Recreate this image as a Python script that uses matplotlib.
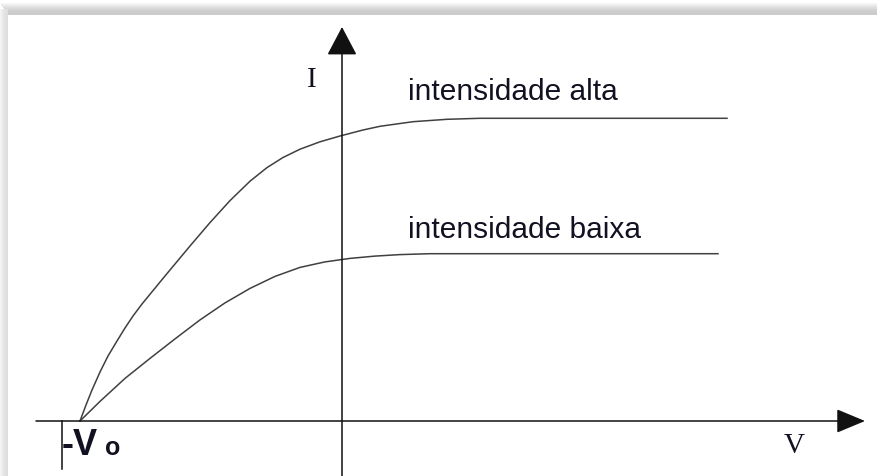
import numpy as np
import matplotlib.pyplot as plt
from matplotlib.patches import Rectangle

# curve points (V on the x axis, I on the y axis)
v_high = [-2.62, -2.56, -2.50, -2.42, -2.34, -2.25, -2.17, -2.09, -2.00, -1.89,
          -1.77, -1.65, -1.52, -1.32, -1.12, -0.92, -0.75, -0.59, -0.42, -0.22,
          -0.02, 0.21, 0.38, 0.71, 1.05, 1.38, 3.85]
i_high = [0.00, 0.16, 0.31, 0.49, 0.65, 0.80, 0.93, 1.05, 1.17, 1.304,
          1.45, 1.594, 1.75, 1.984, 2.204, 2.398, 2.534, 2.635, 2.718, 2.792,
          2.85, 2.91, 2.947, 2.993, 3.017, 3.027, 3.027]

v_low = [-2.62, -2.42, -2.17, -1.92, -1.67, -1.42, -1.17, -0.92, -0.67, -0.42,
         -0.17, 0.08, 0.33, 0.58, 0.88, 3.76]
i_low = [0.00, 0.196, 0.426, 0.626, 0.821, 1.011, 1.181, 1.326, 1.446, 1.536,
         1.591, 1.626, 1.649, 1.664, 1.673, 1.673]

label_high = "intensidade alta"
label_low = "intensidade baixa"
v0 = -2.80

fig = plt.figure(figsize=(8.77, 4.77), dpi=100)
fig.patch.set_facecolor('white')

# background shadow frame, drawn in pixel coordinates
bg = fig.add_axes([0, 0, 1, 1])
bg.set_xlim(0, 877)
bg.set_ylim(477, 0)
bg.axis('off')
top_grays = ['#f6f6f6', '#f0f0f0', '#eaeaea', '#e4e4e4', '#dedede', '#d9d9d9',
             '#d4d4d4', '#d0d0d0', '#cdcdcd', '#cbcbcb', '#cacaca', '#cccccc']
for k, g in enumerate(top_grays):
    bg.add_patch(Rectangle((k * 0.7, 4 + k), 877, 1, color=g, lw=0))
left_grays = ['#f4f4f4', '#efefef', '#eaeaea', '#e6e6e6', '#e3e3e3', '#e1e1e1',
              '#dfdfdf', '#dddddd']
for k, g in enumerate(left_grays):
    bg.add_patch(Rectangle((k, 10), 1, 477, color=g, lw=0))

# main drawing area: origin at the axes crossing
ax = fig.add_axes([0, 0, 1, 1])
ax.set_xlim(-3.42, 5.35)
ax.set_ylim(-0.55, 4.22)
ax.axis('off')
ax.patch.set_alpha(0)

arrow = dict(arrowstyle='-|>,head_length=1.8,head_width=0.75', color='#111111',
             lw=1.1, shrinkA=0, shrinkB=0, mutation_scale=10)
ax.annotate('', xy=(5.23, 0), xytext=(-3.06, 0), arrowprops=arrow)
ax.annotate('', xy=(0, 3.94), xytext=(0, -0.55),
            arrowprops=dict(arrow, arrowstyle='-|>,head_length=1.8,head_width=0.95'))
ax.plot([v0, v0], [0, -0.48], color='#111111', lw=1.1)

ax.plot(v_high, i_high, color='#404040', lw=1.1)
ax.plot(v_low, i_low, color='#404040', lw=1.1)

ax.text(0.66, 3.22, label_high, fontsize=21.5, family='Liberation Sans',
        color='#111122', va='baseline')
ax.text(0.66, 1.84, label_low, fontsize=21.5, family='Liberation Sans',
        color='#111122', va='baseline')

ax.text(-0.30, 3.35, 'I', fontsize=21, family='Liberation Serif',
        ha='center', va='baseline', color='#111122')
ax.text(4.52, -0.31, 'V', fontsize=21, family='Liberation Serif',
        ha='center', va='baseline', color='#111122')
ax.text(-2.80, -0.33, '-V', fontsize=26, family='Liberation Sans',
        fontweight='bold', va='baseline', color='#111122')
ax.text(-2.375, -0.33, 'o', fontsize=18, family='Liberation Sans',
        fontweight='bold', va='baseline', color='#111122')

fig.savefig('out.png', dpi=100)
